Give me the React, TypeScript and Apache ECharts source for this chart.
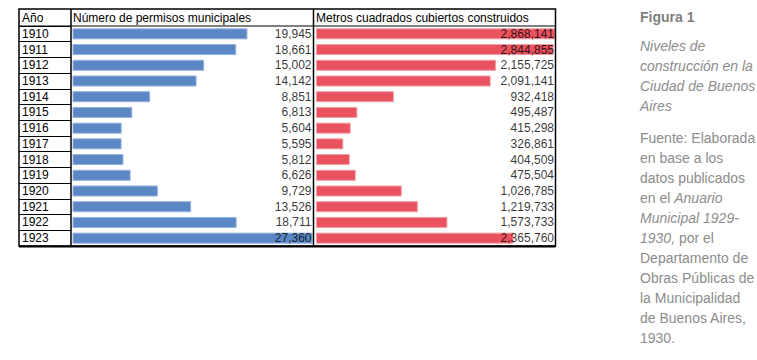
import React, { useEffect, useRef } from "react";
import * as echarts from "echarts";

const years = ["1910", "1911", "1912", "1913", "1914", "1915", "1916", "1917", "1918", "1919", "1920", "1921", "1922", "1923"];
const permits = [19945, 18661, 15002, 14142, 8851, 6813, 5604, 5595, 5812, 6626, 9729, 13526, 18711, 27360];
const area = [2868141, 2844855, 2155725, 2091141, 932418, 495487, 415298, 326861, 404509, 475504, 1026785, 1219733, 1573733, 2365760];
const headers = ["Año", "Número de permisos municipales", "Metros cuadrados cubiertos construidos"];
const figTitle = "Figura 1";
const captionLines = ["Niveles de", "construcción en la", "Ciudad de Buenos", "Aires"];
const sourceLines = [
  "Fuente: Elaborada",
  "en base a los",
  "datos publicados",
  "en el {i|Anuario}",
  "{i|Municipal 1929-}",
  "{i|1930,} por el",
  "Departamento de",
  "Obras Públicas de",
  "la Municipalidad",
  "de Buenos Aires,",
  "1930.",
];

const NARROW = "'Liberation Sans Narrow', 'Arial Narrow', 'Liberation Sans', Arial, sans-serif";
const SANS = "'Liberation Sans', Arial, sans-serif";

export default function App() {
  const ref = useRef<HTMLDivElement>(null);
  useEffect(() => {
    if (!ref.current) return;
    const chart = echarts.init(ref.current, undefined, { renderer: "svg" });
    const top = 26;
    const bodyH = 220;
    const tableL = 19;
    const tableT = 9;
    const tableR = 555.5;
    const tableB = top + bodyH;
    const pMax = Math.max(...permits);
    const aMax = Math.max(...area);
    const fmt = (v: number) => v.toLocaleString("en-US");

    const graphics: any[] = [
      { type: "rect", shape: { x: tableL, y: tableT, width: tableR - tableL, height: tableB - tableT }, style: { fill: "none", stroke: "#000", lineWidth: 1.5 }, z: 100 },
      { type: "line", shape: { x1: tableL, y1: tableB + 0.5, x2: tableR, y2: tableB + 0.5 }, style: { stroke: "#000", lineWidth: 2 }, z: 100 },
      { type: "line", shape: { x1: tableL, y1: top, x2: tableR, y2: top }, style: { stroke: "#000", lineWidth: 1 }, z: 100 },
      { type: "line", shape: { x1: 71, y1: tableT, x2: 71, y2: tableB }, style: { stroke: "#000", lineWidth: 1.5 }, z: 100 },
      { type: "line", shape: { x1: 313.5, y1: tableT, x2: 313.5, y2: tableB }, style: { stroke: "#000", lineWidth: 1.5 }, z: 100 },
      { type: "text", x: 22, y: 17.5, style: { text: headers[0], font: `12px ${NARROW}`, fill: "#000", verticalAlign: "middle" } },
      { type: "text", x: 73, y: 17.5, style: { text: headers[1], font: `12px ${NARROW}`, fill: "#000", verticalAlign: "middle" } },
      { type: "text", x: 316, y: 17.5, style: { text: headers[2], font: `12px ${NARROW}`, fill: "#000", verticalAlign: "middle" } },
      { type: "text", x: 640, y: 17, style: { text: figTitle, font: `bold 14px ${SANS}`, fill: "#7f7f7f", verticalAlign: "middle" } },
    ];
    captionLines.forEach((t, i) => {
      graphics.push({ type: "text", x: 640, y: 46 + i * 20, style: { text: t, font: `italic 14px ${SANS}`, fill: "#8c8c8c", verticalAlign: "middle" } });
    });
    sourceLines.forEach((t, i) => {
      graphics.push({
        type: "text",
        x: 640,
        y: 138 + i * 20,
        style: {
          text: t,
          font: `14px ${SANS}`,
          fill: "#8c8c8c",
          verticalAlign: "middle",
          rich: { i: { fontStyle: "italic", fontSize: 14, fontFamily: SANS, fill: "#8c8c8c" } },
        },
      });
    });

    const labelStyle = { fontFamily: NARROW, fontSize: 12, color: "#000" };

    chart.setOption({
      animation: false,
      grid: [
        { left: tableL, top, width: 71 - tableL, height: bodyH, containLabel: false },
        { left: 72.5, top, width: 240, height: bodyH },
        { left: 316, top, width: 239.5, height: bodyH },
      ],
      xAxis: [
        { gridIndex: 0, type: "value", show: false },
        { gridIndex: 1, type: "value", min: 0, max: pMax, show: false },
        { gridIndex: 2, type: "value", min: 0, max: aMax, show: false },
      ],
      yAxis: [
        {
          gridIndex: 0,
          type: "category",
          inverse: true,
          data: years,
          axisLine: { show: false },
          axisTick: { show: false },
          splitLine: { show: true, interval: 0, lineStyle: { color: "#000", width: 1 } },
          axisLabel: { inside: true, margin: 3, interval: 0, ...labelStyle },
        },
        { gridIndex: 1, type: "category", inverse: true, data: years, show: false },
        { gridIndex: 2, type: "category", inverse: true, data: years, show: false },
      ],
      series: [
        {
          type: "bar",
          xAxisIndex: 1,
          yAxisIndex: 1,
          data: permits,
          barWidth: 11,
          itemStyle: { color: "#5b87c5", borderColor: "#93b1dc", borderWidth: 1 },
        },
        {
          type: "bar",
          xAxisIndex: 2,
          yAxisIndex: 2,
          data: area,
          barWidth: 11,
          itemStyle: { color: "#e9525f", borderColor: "#f39aa2", borderWidth: 1 },
        },
        {
          type: "scatter",
          xAxisIndex: 1,
          yAxisIndex: 1,
          symbolSize: 0,
          data: permits.map((v, i) => [pMax, i, v]),
          label: { show: true, position: "left", distance: 1, formatter: (p: any) => fmt(p.value[2]), ...labelStyle },
          z: 10,
        },
        {
          type: "scatter",
          xAxisIndex: 2,
          yAxisIndex: 2,
          symbolSize: 0,
          data: area.map((v, i) => [aMax, i, v]),
          label: { show: true, position: "left", distance: 1.5, formatter: (p: any) => fmt(p.value[2]), ...labelStyle },
          z: 10,
        },
      ],
      graphic: graphics,
    });
    return () => chart.dispose();
  }, []);
  return <div ref={ref} style={{ position: "fixed", left: 0, top: 0, width: 757, height: 360, background: "#fff" }} />;
}
